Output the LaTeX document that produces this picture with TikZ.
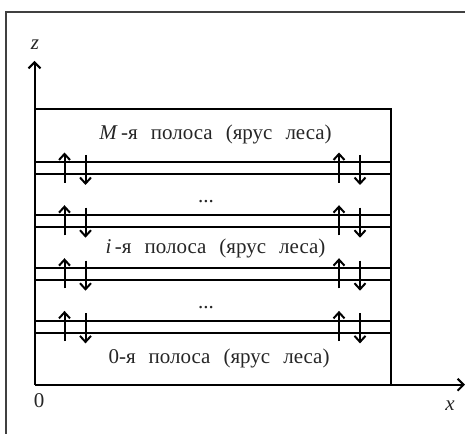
\documentclass[tikz,border=0pt]{standalone}
\usepackage{fontspec}
\setmainfont{Liberation Serif}
\usetikzlibrary{arrows.meta}
\tikzset{
  axisline/.style={line width=2bp,-{Straight Barb[length=6bp,width=12bp,line width=2bp]}},
  bandline/.style={line width=2bp},
  fluxarrow/.style={line width=2bp,-{Straight Barb[length=6bp,width=11bp,line width=2bp]}},
  lbl/.style={inner sep=0pt,font=\fontsize{21bp}{24bp}\selectfont,text=black!85}
}
\newcommand{\wsp}{\hspace{0.62em}}
\begin{document}
\begin{tikzpicture}[x=1bp,y=-1bp]
\useasboundingbox (0,0) rectangle (465,434);
% outer frame
\coordinate (fa) at (6,434);
\coordinate (fb) at (6,12);
\coordinate (fc) at (465,12);
\draw[line width=1.5bp,black!75] (fa) -- (fb) -- (fc);
% axes and box
\coordinate (O) at (34.5,384.7);
\coordinate (ztip) at (34.5,61);
\coordinate (xtip) at (465,384.7);
\coordinate (boxtl) at (34.5,109);
\coordinate (boxtr) at (391,109);
\coordinate (boxbr) at (391,384.7);
\draw[axisline] (O) -- (ztip);
\draw[axisline] (O) -- (xtip);
\draw[bandline] (boxtl) -- (boxtr) -- (boxbr);
% bands
\foreach \n/\ya/\yb in {1/162.3/174,2/215/226.7,3/268/279.7,4/320.7/332.7}{
  \coordinate (la\n) at (34.5,\ya);
  \coordinate (ra\n) at (391,\ya);
  \coordinate (lb\n) at (34.5,\yb);
  \coordinate (rb\n) at (391,\yb);
  \draw[bandline] (la\n) -- (ra\n);
  \draw[bandline] (lb\n) -- (rb\n);
  \coordinate (us\n) at (64.5,\ya+20.3);
  \coordinate (ue\n) at (64.5,\ya-9.8);
  \coordinate (ds\n) at (85.5,\ya-7.3);
  \coordinate (de\n) at (85.5,\ya+22.7);
  \coordinate (Us\n) at (339,\ya+20.3);
  \coordinate (Ue\n) at (339,\ya-9.8);
  \coordinate (Ds\n) at (360,\ya-7.3);
  \coordinate (De\n) at (360,\ya+22.7);
  \draw[fluxarrow] (us\n) -- (ue\n);
  \draw[fluxarrow] (ds\n) -- (de\n);
  \draw[fluxarrow] (Us\n) -- (Ue\n);
  \draw[fluxarrow] (Ds\n) -- (De\n);
}
% labels
\node[lbl] (tM) at (215.5,134) {\textit{M}\,-я\wsp полоса\wsp (ярус\wsp леса)};
\node[lbl] (ti) at (215.5,248) {\textit{i}\,-я\wsp полоса\wsp (ярус\wsp леса)};
\node[lbl] (t0) at (219,358) {0-я\wsp полоса\wsp (ярус\wsp леса)};
\node[lbl] (d1) at (206,202) {...};
\node[lbl] (d2) at (206,308) {...};
\node[lbl] (lz) at (35,45) {\textit{z}};
\node[lbl] (l0) at (39,401) {0};
\node[lbl] (lx) at (450,406) {\textit{x}};
\end{tikzpicture}
\end{document}
